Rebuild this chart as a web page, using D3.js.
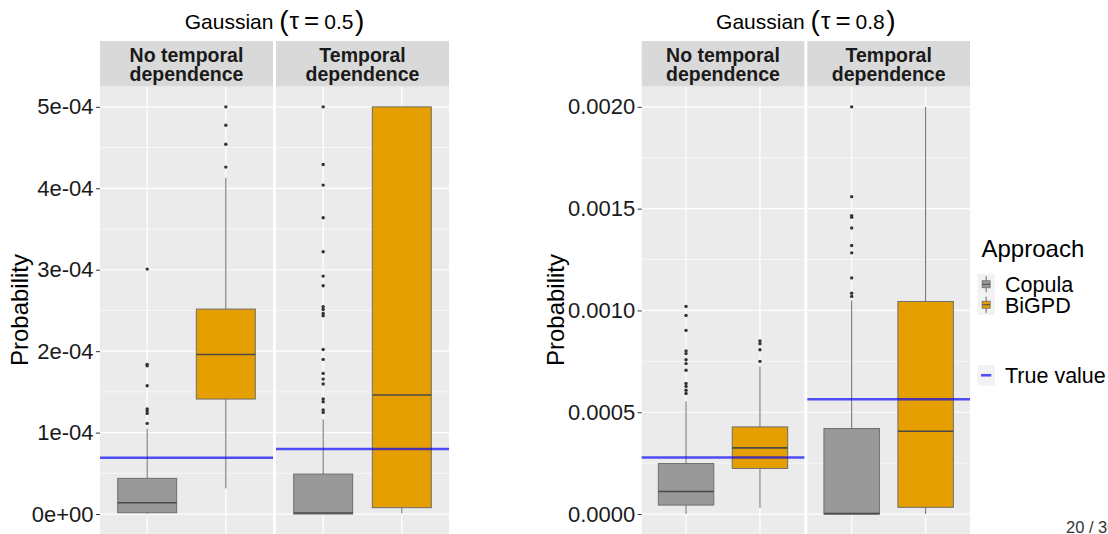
<!DOCTYPE html>
<html>
<head>
<meta charset="utf-8">
<script src="https://cdn.jsdelivr.net/npm/d3@7"></script>
<style>
  html, body { margin: 0; padding: 0; background: #ffffff; }
  svg { display: block; font-family: "Liberation Sans", Arial, Helvetica, sans-serif; }
</style>
</head>
<body>
<svg id="chart" width="1108" height="534"></svg>
<script>
// ---- data -------------------------------------------------------------
const approaches = ["Copula", "BiGPD"];
const approachColors = ["#999999", "#E69F00"];
const facetLabels = [["No temporal", "dependence"], ["Temporal", "dependence"]];

// box summaries: [lower whisker, Q1, median, Q3, upper whisker]
// Gaussian, tau = 0.5
const t05NoneCopula = [0.0, 0.016e-4, 0.139e-4, 0.438e-4, 1.05e-4];
const t05NoneBiGPD = [0.315e-4, 1.412e-4, 1.96e-4, 2.517e-4, 4.13e-4];
const t05TempCopula = [0.0, 0.0, 0.012e-4, 0.491e-4, 1.162e-4];
const t05TempBiGPD = [0.008e-4, 0.078e-4, 1.461e-4, 5.0e-4, 5.0e-4];
// Gaussian, tau = 0.8
const t08NoneCopula = [0.0, 0.44e-4, 1.11e-4, 2.48e-4, 5.54e-4];
const t08NoneBiGPD = [0.31e-4, 2.24e-4, 3.25e-4, 4.28e-4, 7.25e-4];
const t08TempCopula = [0.0, 0.0, 0.02e-4, 4.2e-4, 10.49e-4];
const t08TempBiGPD = [0.0, 0.33e-4, 4.07e-4, 10.44e-4, 20.0e-4];

// outlying estimates
const t05NoneCopulaOut = [1.113e-4, 1.236e-4, 1.264e-4, 1.289e-4, 1.575e-4, 1.82e-4, 1.838e-4, 3.008e-4];
const t05NoneBiGPDOut = [4.26e-4, 4.54e-4, 4.775e-4, 5.0e-4];
const t05TempCopulaOut = [1.248e-4, 1.277e-4, 1.379e-4, 1.412e-4, 1.596e-4, 1.657e-4, 1.727e-4,
  1.899e-4, 2.021e-4, 2.435e-4, 2.463e-4, 2.512e-4, 2.545e-4, 2.803e-4, 2.922e-4, 3.22e-4,
  3.638e-4, 4.039e-4, 4.292e-4, 5.0e-4];
const t05TempBiGPDOut = [];
const t08NoneCopulaOut = [5.92e-4, 6.08e-4, 6.27e-4, 6.41e-4, 7.06e-4, 7.39e-4, 7.58e-4, 7.88e-4,
  8.01e-4, 9.02e-4, 9.75e-4, 10.2e-4];
const t08NoneBiGPDOut = [7.5e-4, 8.07e-4, 8.37e-4, 8.5e-4];
const t08TempCopulaOut = [10.69e-4, 10.85e-4, 11.6e-4, 12.83e-4, 13.19e-4, 14.05e-4, 14.58e-4,
  14.66e-4, 15.59e-4, 20.0e-4];
const t08TempBiGPDOut = [];

// true probability per facet
const t05TrueValues = [0.691e-4, 0.798e-4];
const t08TrueValues = [2.78e-4, 5.64e-4];

// y-axis ticks
const t05Ticks = [0, 1e-4, 2e-4, 3e-4, 4e-4, 5e-4];
const t05TickLabels = ["0e+00", "1e-04", "2e-04", "3e-04", "4e-04", "5e-04"];
const t08Ticks = [0, 0.0005, 0.0010, 0.0015, 0.0020];
const t08TickLabels = ["0.0000", "0.0005", "0.0010", "0.0015", "0.0020"];

const legendLabels = ["Copula", "BiGPD"];
const trueLabel = "True value";
const pageLabel = "20 / 30";

// ---- drawing ----------------------------------------------------------
const svg = d3.select("#chart");
const stripTop = 41, panelTop = 86.5, panelBottom = 534.4;

function drawChart(o) {
  const g = svg.append("g");
  const [lo, hi] = o.dataRange;
  const pad = (hi - lo) * 0.05;
  const y = d3.scaleLinear().domain([lo - pad, hi + pad]).range([panelBottom, panelTop]);

  // minor break positions: midpoints between major ticks
  const minor = [];
  for (let i = 0; i < o.ticks.length - 1; i++) minor.push((o.ticks[i] + o.ticks[i + 1]) / 2);

  o.panels.forEach((p, fi) => {
    const x = d3.scalePoint().domain(approaches).range([p[0], p[1]]).padding(0.6);
    const bw = x.step() * 0.75;
    const pg = g.append("g");

    pg.append("rect").attr("x", p[0]).attr("y", panelTop)
      .attr("width", p[1] - p[0]).attr("height", panelBottom - panelTop).attr("fill", "#ebebeb");

    pg.selectAll("line.minor").data(minor).join("line")
      .attr("x1", p[0]).attr("x2", p[1]).attr("y1", d => y(d)).attr("y2", d => y(d))
      .attr("stroke", "#ffffff").attr("stroke-width", 0.6);
    pg.selectAll("line.major").data(o.ticks).join("line")
      .attr("x1", p[0]).attr("x2", p[1]).attr("y1", d => y(d)).attr("y2", d => y(d))
      .attr("stroke", "#ffffff").attr("stroke-width", 1.2);
    pg.selectAll("line.vgrid").data(approaches).join("line")
      .attr("x1", d => x(d)).attr("x2", d => x(d)).attr("y1", panelTop).attr("y2", panelBottom)
      .attr("stroke", "#ffffff").attr("stroke-width", 1.2);

    // strip
    pg.append("rect").attr("x", p[0]).attr("y", stripTop)
      .attr("width", p[1] - p[0]).attr("height", panelTop - stripTop).attr("fill", "#d9d9d9");
    const st = pg.append("text").attr("text-anchor", "middle")
      .attr("font-size", 19.5).attr("font-weight", "bold").attr("fill", "#1a1a1a");
    facetLabels[fi].forEach((ln, li) => {
      st.append("tspan").attr("x", (p[0] + p[1]) / 2).attr("y", 61.5 + li * 19.5).text(ln);
    });

    // boxes
    approaches.forEach((a, ai) => {
      const s = o.stats[fi][ai];
      const cx = x(a);
      pg.append("line").attr("x1", cx).attr("x2", cx).attr("y1", y(s[0])).attr("y2", y(s[1]))
        .attr("stroke", "#6b6b6b").attr("stroke-width", 1);
      pg.append("line").attr("x1", cx).attr("x2", cx).attr("y1", y(s[3])).attr("y2", y(s[4]))
        .attr("stroke", "#6b6b6b").attr("stroke-width", 1);
      pg.append("rect").attr("x", cx - bw / 2).attr("y", y(s[3]))
        .attr("width", bw).attr("height", Math.max(0, y(s[1]) - y(s[3])))
        .attr("fill", approachColors[ai]).attr("stroke", "#6e6e6e").attr("stroke-width", 1);
      pg.append("line").attr("x1", cx - bw / 2).attr("x2", cx + bw / 2)
        .attr("y1", y(s[2])).attr("y2", y(s[2]))
        .attr("stroke", "#4a4a4a").attr("stroke-width", 1.6);
      pg.selectAll(null).data(o.outliers[fi][ai]).join("circle")
        .attr("cx", cx).attr("cy", d => y(d)).attr("r", 1.7).attr("fill", "#333333");
    });

    // true value
    pg.append("line").attr("x1", p[0]).attr("x2", p[1])
      .attr("y1", y(o.truth[fi])).attr("y2", y(o.truth[fi]))
      .attr("stroke", "#0000ff").attr("stroke-opacity", 0.68).attr("stroke-width", 2.6);
  });

  // y axis
  const ax = g.append("g").attr("transform", `translate(${o.panels[0][0]},0)`)
    .call(d3.axisLeft(y).tickValues(o.ticks).tickFormat((d, i) => o.tickLabels[i])
      .tickSize(4).tickPadding(2.5));
  ax.select(".domain").remove();
  ax.selectAll(".tick line").attr("stroke", "#333333").attr("stroke-width", 1);
  ax.selectAll(".tick text").attr("font-size", 22).attr("fill", "#1a1a1a")
    .attr("font-family", "Liberation Sans, Arial, sans-serif");

  g.append("text").attr("transform", `translate(${o.yTitleX},310) rotate(-90)`)
    .attr("text-anchor", "middle").attr("font-size", 24).attr("fill", "#000")
    .text("Probability");

  // title: Gaussian (τ = v)
  const cxT = (o.panels[0][0] + o.panels[1][1]) / 2;
  const t = g.append("text").attr("x", cxT).attr("y", 28.5).attr("text-anchor", "middle")
    .attr("font-size", 21).attr("fill", "#000");
  t.append("tspan").text("Gaussian ");
  t.append("tspan").attr("font-size", 28).attr("dy", 1.5).text("(");
  t.append("tspan").attr("font-size", 24).attr("dy", -1.5).attr("dx", 1).text("τ");
  t.append("tspan").attr("font-size", 26).attr("dx", 5).text("=");
  t.append("tspan").attr("dx", 5).text(o.tau);
  t.append("tspan").attr("font-size", 28).attr("dy", 1.5).attr("dx", 1.5).text(")");
}

drawChart({
  panels: [[100, 273], [276, 449]],
  dataRange: [0, 5e-4],
  ticks: t05Ticks, tickLabels: t05TickLabels,
  stats: [[t05NoneCopula, t05NoneBiGPD], [t05TempCopula, t05TempBiGPD]],
  outliers: [[t05NoneCopulaOut, t05NoneBiGPDOut], [t05TempCopulaOut, t05TempBiGPDOut]],
  truth: t05TrueValues, tau: "0.5", yTitleX: 28
});
drawChart({
  panels: [[641.7, 804.3], [807.3, 970]],
  dataRange: [0, 0.002],
  ticks: t08Ticks, tickLabels: t08TickLabels,
  stats: [[t08NoneCopula, t08NoneBiGPD], [t08TempCopula, t08TempBiGPD]],
  outliers: [[t08NoneCopulaOut, t08NoneBiGPDOut], [t08TempCopulaOut, t08TempBiGPDOut]],
  truth: t08TrueValues, tau: "0.8", yTitleX: 564
});

// legend
const lg = svg.append("g");
lg.append("text").attr("x", 981.5).attr("y", 256.5).attr("font-size", 24).attr("fill", "#000")
  .text("Approach");
legendLabels.forEach((lab, i) => {
  const kx = 977.5, kw = 17.3, kh = 20.5, ky = 274 + i * kh;
  lg.append("rect").attr("x", kx).attr("y", ky).attr("width", kw).attr("height", kh).attr("fill", "#f2f2f2");
  const cx = kx + kw / 2, cy = ky + kh / 2;
  lg.append("line").attr("x1", cx).attr("x2", cx).attr("y1", cy - 8).attr("y2", cy + 8)
    .attr("stroke", "#6b6b6b").attr("stroke-width", 1);
  lg.append("rect").attr("x", cx - 4).attr("y", cy - 3.5).attr("width", 8).attr("height", 7)
    .attr("fill", approachColors[i]).attr("stroke", "#6e6e6e").attr("stroke-width", 0.8);
  lg.append("line").attr("x1", cx - 4).attr("x2", cx + 4).attr("y1", cy).attr("y2", cy)
    .attr("stroke", "#4a4a4a").attr("stroke-width", 1);
  lg.append("text").attr("x", 1005).attr("y", cy + 7.8).attr("font-size", 21.5)
    .attr("fill", "#000").text(lab);
});
{
  const ky = 365, kx = 977.5, kw = 17.3, kh = 20.5;
  lg.append("rect").attr("x", kx).attr("y", ky).attr("width", kw).attr("height", kh).attr("fill", "#f2f2f2");
  lg.append("line").attr("x1", kx + 3.5).attr("x2", kx + kw - 3.5).attr("y1", ky + kh / 2).attr("y2", ky + kh / 2)
    .attr("stroke", "#0000ff").attr("stroke-opacity", 0.68).attr("stroke-width", 2.6);
  lg.append("text").attr("x", 1005).attr("y", ky + kh / 2 + 7.8).attr("font-size", 21.5)
    .attr("fill", "#000").text(trueLabel);
}

svg.append("text").attr("x", 1066).attr("y", 533).attr("font-size", 16.5).attr("fill", "#333")
  .text(pageLabel);
</script>
</body>
</html>
